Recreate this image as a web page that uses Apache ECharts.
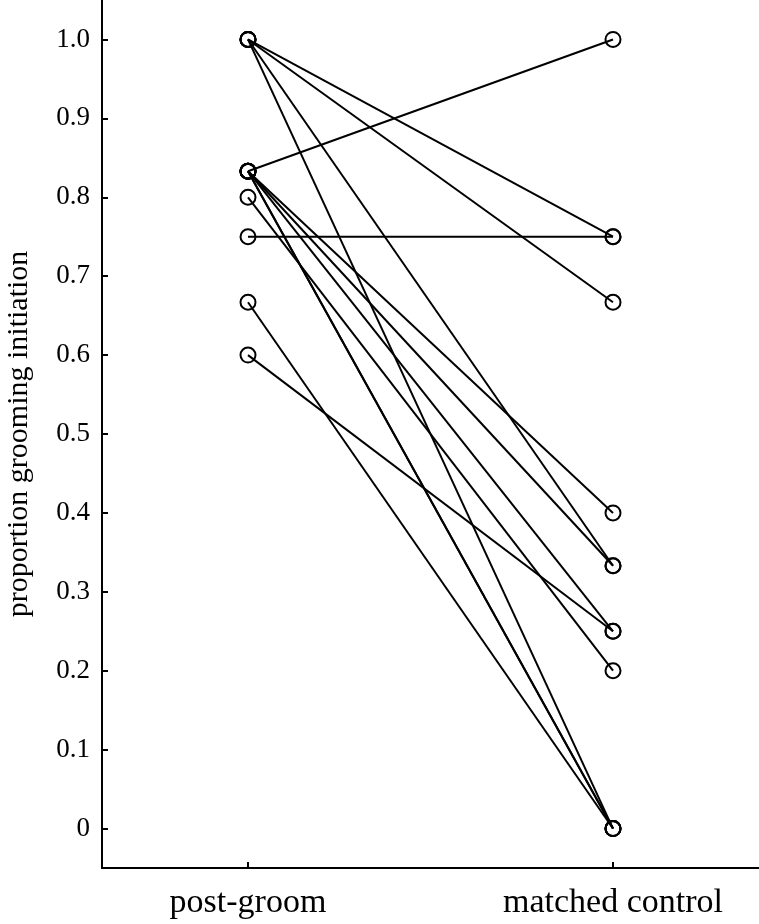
<!DOCTYPE html>
<html>
<head>
<meta charset="utf-8">
<script src="https://cdn.jsdelivr.net/npm/echarts@6/dist/echarts.min.js"></script>
<style>
html,body{margin:0;padding:0;background:#fff;}
#chart{width:759px;height:924px;}
</style>
</head>
<body>
<div id="chart"></div>
<script>
// Categories (x positions 0 and 1)
const categories = ['post-groom', 'matched control'];
// Each pair: value at post-groom and value at matched control
const postGroom      = [1.0, 1.0,   1.0,   1.0, 0.833, 0.833, 0.833, 0.833, 0.833, 0.833, 0.8, 0.75, 0.667, 0.6];
const matchedControl = [0.75, 0.667, 0.333, 0,  1.0,   0.4,   0.333, 0.25,  0,     0,     0.2, 0.75, 0,     0.25];
// Y tick labels
const yTicks = [0, 0.1, 0.2, 0.3, 0.4, 0.5, 0.6, 0.7, 0.8, 0.9, 1.0];
const yTickLabels = ['0', '0.1', '0.2', '0.3', '0.4', '0.5', '0.6', '0.7', '0.8', '0.9', '1.0'];

const FONT = '"Liberation Serif", "DejaVu Serif", serif';
const chart = echarts.init(document.getElementById('chart'));

const series = postGroom.map((v, i) => ({
  type: 'line',
  data: [[0, v], [1, matchedControl[i]]],
  symbol: 'circle',
  symbolSize: 15,
  showSymbol: true,
  lineStyle: { color: '#000', width: 2 },
  itemStyle: { color: 'rgba(0,0,0,0)', borderColor: '#000', borderWidth: 2 },
  emphasis: { disabled: true },
  animation: false,
  z: 2
}));

chart.setOption({
  animation: false,
  backgroundColor: '#fff',
  grid: { left: 102, right: 0, top: 0, bottom: 56, containLabel: false, outerBoundsMode: 'none' },
  xAxis: {
    type: 'value',
    min: -0.4,
    max: 1.4,
    splitLine: { show: false },
    axisLine: { onZero: false, lineStyle: { color: '#000', width: 2 } },
    axisTick: { show: true, inside: true, length: 6, customValues: [0, 1], lineStyle: { color: '#000', width: 2 } },
    axisLabel: {
      customValues: [0, 1],
      formatter: v => categories[Math.round(v)],
      color: '#000', fontFamily: FONT, fontSize: 34, margin: 18
    }
  },
  yAxis: {
    type: 'value',
    min: -0.05,
    max: 1.05,
    name: 'proportion grooming initiation',
    nameLocation: 'middle',
    nameGap: 68,
    nameRotate: 90,
    nameTextStyle: { color: '#000', fontFamily: FONT, fontSize: 30 },
    splitLine: { show: false },
    axisLine: { onZero: false, lineStyle: { color: '#000', width: 2 } },
    axisTick: { show: true, inside: true, length: 6, customValues: yTicks, lineStyle: { color: '#000', width: 2 } },
    axisLabel: {
      customValues: yTicks,
      formatter: v => yTickLabels[Math.round(v * 10)],
      color: '#000', fontFamily: FONT, fontSize: 27, margin: 12
    }
  },
  series: series
});
</script>
</body>
</html>
